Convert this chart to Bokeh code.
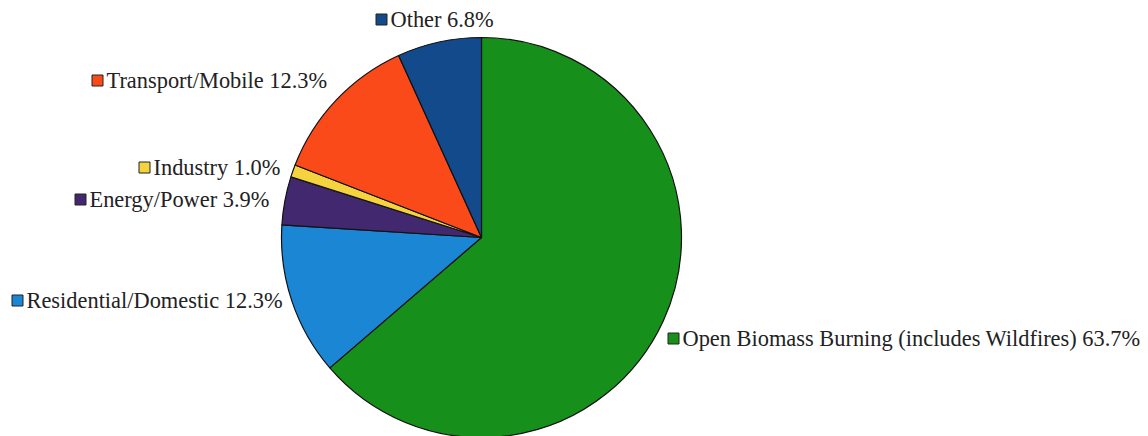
import math
from bokeh.plotting import figure
from bokeh.models import Range1d, ColumnDataSource
from bokeh.core.properties import value
from bokeh.embed import file_html
from bokeh.resources import INLINE

categories = ["Open Biomass Burning (includes Wildfires)", "Residential/Domestic",
              "Energy/Power", "Industry", "Transport/Mobile", "Other"]
shares = [63.7, 12.3, 3.9, 1.0, 12.3, 6.8]
colors = ["#16901a", "#1a86d4", "#41286f", "#f4d33e", "#fb4a1a", "#124a8c"]

W, H = 1148, 436
cx, cy, r = 481, H - 237, 200

# label anchor positions (pixel, top-left origin) for marker centre
label_pos = [(673, 338), (17, 300), (80, 199), (144, 167), (97, 80), (381, 19)]

p = figure(width=W, height=H, output_backend="svg", toolbar_location=None,
           x_range=Range1d(0, W), y_range=Range1d(0, H), min_border=0)
p.axis.visible = False
p.grid.visible = False
p.outline_line_color = None
p.background_fill_color = "white"

starts, ends = [], []
a = math.pi / 2
for s in shares:
    e = a - s / 100 * 2 * math.pi
    starts.append(a)
    ends.append(e)
    a = e

src = ColumnDataSource(dict(start=starts, end=ends, color=colors))
p.wedge(x=cx, y=cy, radius=r, start_angle="start", end_angle="end", direction="clock",
        fill_color="color", line_color="#111111", line_width=1.2, source=src)

mx = [lp[0] for lp in label_pos]
my = [H - lp[1] for lp in label_pos]
texts = [f"{c} {v:.1f}%" for c, v in zip(categories, shares)]
p.scatter(x=mx, y=my, marker="square", size=11, fill_color=colors,
          line_color="#222222", line_width=1)
p.text(x=[x + 9 for x in mx], y=my, text=texts,
       text_font=value("Liberation Serif"),
       text_font_size="22.4px", text_baseline="middle", text_align="left", text_color="#222222")

open("out.html", "w").write(file_html(p, INLINE))
